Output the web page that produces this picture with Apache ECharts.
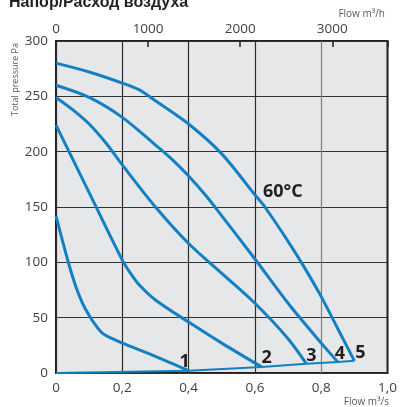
<!DOCTYPE html>
<html>
<head>
<meta charset="utf-8">
<script src="https://cdn.jsdelivr.net/npm/echarts@6/dist/echarts.min.js"></script>
<style>
  html, body { margin: 0; padding: 0; background: #ffffff; }
  #chart { width: 400px; height: 407px; }
</style>
</head>
<body>
<div id="chart"></div>
<script>
// Axis ticks
const flowTicksS = [0, 0.2, 0.4, 0.6, 0.8, 1.0];
const flowTickLabelsS = ['0', '0,2', '0,4', '0,6', '0,8', '1,0'];
const flowTicksH = [0, 1000, 2000, 3000];
const pressureTicks = [0, 50, 100, 150, 200, 250, 300];

// Fan curves [flow m3/s, total pressure Pa] for speed steps 1..5
const curve1 = [[0, 142], [0.02, 119], [0.04, 97], [0.06, 78], [0.08, 63], [0.1, 52], [0.12, 43], [0.14, 36], [0.17, 31], [0.2, 27], [0.3, 15], [0.4, 2]];
const curve2 = [[0, 224], [0.1, 163], [0.2, 102], [0.225, 90], [0.25, 80], [0.3, 66], [0.4, 46], [0.5, 27], [0.62, 5.5]];
const curve3 = [[0, 249], [0.05, 238], [0.1, 225], [0.15, 208], [0.2, 188], [0.3, 150], [0.4, 117], [0.5, 90], [0.6, 63], [0.7, 31], [0.755, 8.4]];
const curve4 = [[0, 260], [0.1, 249], [0.2, 231], [0.3, 206], [0.35, 193], [0.4, 178], [0.45, 161], [0.5, 142], [0.6, 103], [0.7, 63], [0.8, 27], [0.85, 10]];
const curve5 = [[0, 280], [0.1, 272], [0.2, 262], [0.25, 256], [0.3, 246], [0.4, 225], [0.5, 198], [0.6, 161], [0.63, 150], [0.7, 119], [0.75, 95], [0.8, 69], [0.85, 40], [0.9, 11]];
// System resistance line through the end points of the fan curves
const systemLine = [[0, 0], [0.4, 2], [0.62, 5.5], [0.755, 8.4], [0.85, 10], [0.9, 11]];

const curveNames = ['1', '2', '3', '4', '5'];
const curves = [curve1, curve2, curve3, curve4, curve5];
const labelOffsets = [[-4, 0], [5, 0], [5, 1], [2, 1], [6, 1]];
const tempNote = '60°C';
const tempPoint = [0.6, 161];

const BLUE = '#1380c3';
const TICK_FONT = '"Open Sans", "DejaVu Sans", sans-serif';

const chart = echarts.init(document.getElementById('chart'), null, { renderer: 'canvas' });

const fanSeries = curves.map((c, i) => ({
  type: 'line',
  name: curveNames[i],
  xAxisIndex: 0,
  yAxisIndex: 0,
  data: c,
  showSymbol: false,
  smooth: 0.3,
  lineStyle: { color: BLUE, width: 3 },
  z: 3,
  markPoint: {
    symbol: 'circle',
    symbolSize: 0,
    silent: true,
    animation: false,
    data: [{ coord: c[c.length - 1], value: curveNames[i] }],
    label: {
      show: true,
      position: 'top',
      distance: 0,
      offset: labelOffsets[i],
      formatter: curveNames[i],
      color: '#231f20',
      fontFamily: TICK_FONT,
      fontWeight: 'bold',
      fontSize: 18
    }
  }
}));

fanSeries[4].markPoint.data.push({
  coord: tempPoint,
  value: tempNote,
  label: {
    show: true,
    position: 'right',
    distance: 0,
    offset: [8, -3],
    formatter: tempNote,
    color: '#231f20',
    fontFamily: TICK_FONT,
    fontWeight: 'bold',
    fontSize: 18
  }
});

const option = {
  animation: false,
  backgroundColor: '#ffffff',
  grid: {
    left: 56, right: 11.5, top: 41, bottom: 34,
    show: true,
    backgroundColor: '#e6e7e9',
    borderColor: '#231f20',
    borderWidth: 2,
    z: 0
  },
  graphic: [
    {
      type: 'text', left: 9, top: -5, z: 10,
      style: { text: 'Напор/Расход воздуха', font: 'bold 16px "Liberation Sans", Arial, sans-serif', fill: '#231f20' }
    },
    {
      type: 'text', x: 15, y: 116, rotation: Math.PI / 2, z: 10,
      style: { text: 'Total pressure Pa', font: '9px ' + TICK_FONT, fill: '#58595b', align: 'left', verticalAlign: 'middle' }
    },
    {
      type: 'text', right: 15, top: 9, z: 10,
      style: { text: 'Flow m³/h', font: '10px ' + TICK_FONT, fill: '#58595b' }
    },
    {
      type: 'text', right: 11, top: 397, z: 10,
      style: { text: 'Flow m³/s', font: '10px ' + TICK_FONT, fill: '#58595b' }
    }
  ],
  xAxis: [
    {
      type: 'value', position: 'bottom',
      min: flowTicksS[0], max: flowTicksS[flowTicksS.length - 1], interval: 0.2,
      axisLine: { show: false },
      axisTick: { show: false },
      axisLabel: {
        margin: 8, color: '#414042', fontSize: 13.5, fontFamily: TICK_FONT,
        formatter: v => {
          const i = flowTicksS.findIndex(t => Math.abs(t - v) < 1e-9);
          return i >= 0 ? flowTickLabelsS[i] : '';
        }
      },
      splitLine: {
        show: true,
        lineStyle: { color: ['#2b2b2b', '#2b2b2b', '#2b2b2b', '#2b2b2b', '#7f7f7f', '#2b2b2b'], width: 1.2 }
      }
    },
    {
      type: 'value', position: 'top',
      min: 0, max: 3600, interval: 1000,
      axisLine: { show: false },
      axisTick: { show: true, inside: true, length: 6, lineStyle: { color: '#231f20', width: 1.5 } },
      axisLabel: {
        margin: 5, color: '#414042', fontSize: 13.5, fontFamily: TICK_FONT,
        formatter: v => (flowTicksH.indexOf(v) >= 0 ? String(v) : '')
      },
      splitLine: { show: false }
    }
  ],
  yAxis: {
    type: 'value',
    min: pressureTicks[0], max: pressureTicks[pressureTicks.length - 1], interval: 50,
    axisLine: { show: false },
    axisTick: { show: false },
    axisLabel: {
      margin: 8, color: '#414042', fontSize: 13.5, fontFamily: TICK_FONT,
      formatter: v => (pressureTicks.indexOf(v) >= 0 ? String(v) : '')
    },
    splitLine: { show: true, lineStyle: { color: '#333333', width: 1.2 } }
  },
  series: [
    ...fanSeries,
    {
      type: 'line',
      name: 'system',
      data: systemLine,
      showSymbol: false,
      lineStyle: { color: BLUE, width: 2 },
      z: 2
    },
    {
      // keeps the m3/h axis bound to the grid
      type: 'line', xAxisIndex: 1, data: [], showSymbol: false
    }
  ]
};

chart.setOption(option);
</script>
</body>
</html>
